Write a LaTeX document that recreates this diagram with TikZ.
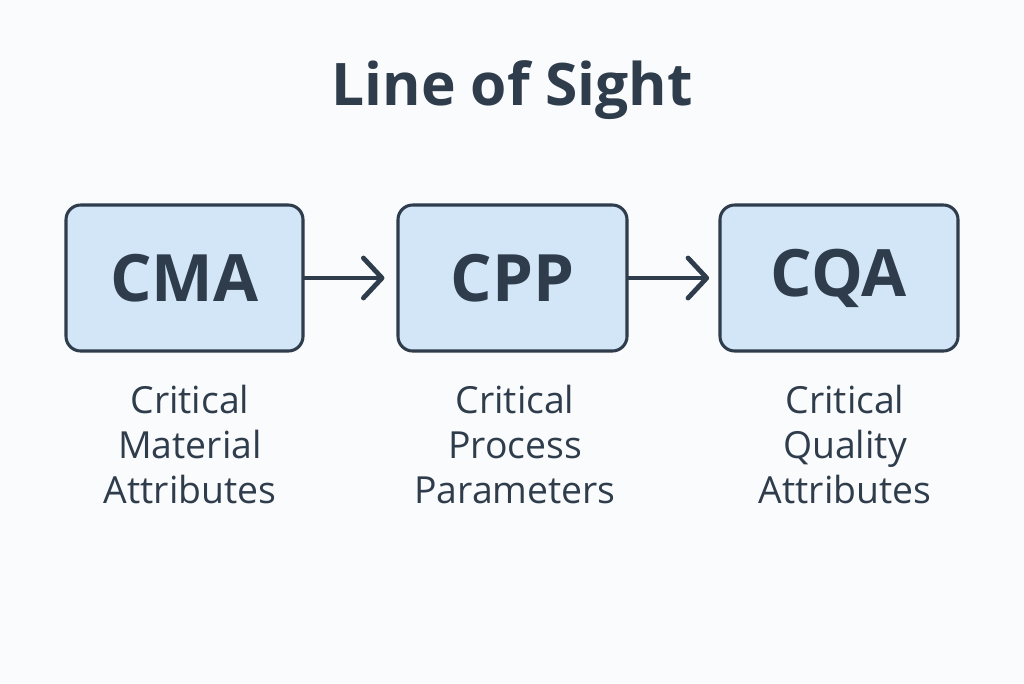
\documentclass[tikz,border=0pt]{standalone}
\usepackage{fontspec}
\setmainfont{Open Sans}
\usetikzlibrary{arrows.meta}
\definecolor{ink}{HTML}{2E3C4B}
\definecolor{boxfill}{HTML}{D3E6F8}
\definecolor{bg}{HTML}{FAFBFC}
\tikzset{
  box/.style={draw=ink, line width=2.3pt, fill=boxfill, rounded corners=11pt,
    minimum height=109.5pt, inner sep=0pt, text=ink, font=\fontsize{49}{52}\selectfont\bfseries},
  sublabel/.style={text=ink, align=center, font=\fontsize{28}{33.75}\selectfont, inner sep=0pt},
  flow/.style={draw=ink, line width=3.6pt, line cap=round,
    -{Straight Barb[length=14pt, width=30pt, line width=3.6pt, round]}}
}
\begin{document}
\begin{tikzpicture}[x=0.75pt, y=-0.75pt]
\fill[bg] (0,0) rectangle (1024,683);
\useasboundingbox (0,0) rectangle (1024,683);
\node[text=ink, font=\fontsize{44}{48}\selectfont\bfseries] (title) at (512,90) {Line of Sight};
\node[box, minimum width=177.75pt] (cma) at (184.5,278) {CMA};
\node[box, minimum width=171.75pt] (cpp) at (512.5,278) {CPP};
\node[box, minimum width=178.5pt] (cqa) at (839,278) {CQA};
\node[sublabel, anchor=north] (l1) at (190,385) {Critical\\Material\\Attributes};
\node[sublabel, anchor=north] (l2) at (515,385) {Critical\\Process\\Parameters};
\node[sublabel, anchor=north] (l3) at (845,385) {Critical\\Quality\\Attributes};
\draw[flow] (cma.east) -- ([xshift=-9pt]cpp.west);
\draw[flow] (cpp.east) -- ([xshift=-7pt]cqa.west);
\end{tikzpicture}
\end{document}
